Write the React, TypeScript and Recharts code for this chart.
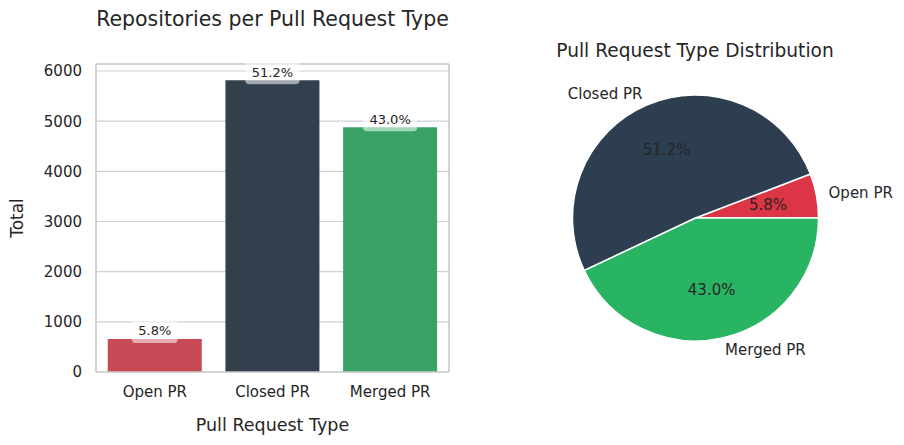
import React from 'react';
import { BarChart, Bar, XAxis, YAxis, CartesianGrid, LabelList, PieChart, Pie, Cell } from 'recharts';

const categories = ['Open PR', 'Closed PR', 'Merged PR'];
const totals = [660, 5815, 4880];
const barColors = ['#c74a56', '#323f4d', '#39a266'];
const pieColors = ['#dc3545', '#2c3e50', '#28b463'];
const yTicks = [0, 1000, 2000, 3000, 4000, 5000, 6000];

const grandTotal = totals.reduce((a, b) => a + b, 0);
const data = categories.map((name, i) => ({
  name,
  total: totals[i],
  pct: ((totals[i] / grandTotal) * 100).toFixed(1) + '%',
}));

const FONT = 'DejaVu Sans, sans-serif';
const TEXT = '#262626';
const RAD = Math.PI / 180;

const charW: Record<string, number> = { '.': 0.318, '%': 0.95 };
const textWidth = (s: string, size: number) =>
  s.split('').reduce((acc, c) => acc + (charW[c] ?? 0.636), 0) * size;

const BarPctLabel = (props: any) => {
  const x = Number(props.x);
  const y = Number(props.y);
  const width = Number(props.width);
  const value = String(props.value);
  const cx = x + width / 2;
  const fs = 13;
  const bw = textWidth(value, fs) + 13;
  return (
    <g>
      <rect x={cx - bw / 2} y={y - 19} width={bw} height={23} rx={4} ry={4} fill="#ffffff" fillOpacity={0.55} />
      <text x={cx} y={y - 3.6} textAnchor="middle" fontSize={fs} fontFamily={FONT} fill={TEXT}>
        {value}
      </text>
    </g>
  );
};

const PieLabel = (props: any) => {
  const { cx, cy, midAngle, outerRadius, index } = props;
  const r1 = outerRadius * 1.1;
  const r2 = outerRadius * 0.6;
  const cos = Math.cos(-midAngle * RAD);
  const sin = Math.sin(-midAngle * RAD);
  const nx = cx + r1 * cos;
  const ny = cy + r1 * sin;
  const px = cx + r2 * cos;
  const py = cy + r2 * sin;
  return (
    <g>
      <text x={nx} y={ny} textAnchor={nx > cx ? 'start' : 'end'} dominantBaseline="central" fontSize={15} fontFamily={FONT} fill={TEXT}>
        {data[index].name}
      </text>
      <text x={px} y={py} textAnchor="middle" dominantBaseline="central" fontSize={15} fontFamily={FONT} fill={TEXT}>
        {data[index].pct}
      </text>
    </g>
  );
};

const SPINE = '#cccccc';
const spine = { stroke: SPINE, strokeWidth: 1.7 };

export default function App() {
  return (
    <div style={{ position: 'absolute', left: 0, top: 0, width: 904, height: 445, background: '#fff', fontFamily: FONT }}>
      <div style={{ position: 'absolute', left: 0, top: 0 }}>
        <BarChart width={460} height={445} data={data} margin={{ top: 64, right: 11, bottom: 43, left: 36 }} barCategoryGap="10%">
          <CartesianGrid horizontal vertical={false} stroke="#d0d0d0" strokeWidth={1.2} />
          <CartesianGrid
            horizontal
            vertical
            stroke={SPINE}
            strokeWidth={1.7}
            horizontalCoordinatesGenerator={({ offset }: any) => [offset.top]}
            verticalCoordinatesGenerator={({ offset }: any) => [offset.left + offset.width]}
          />
          <XAxis
            dataKey="name"
            height={30}
            tickLine={false}
            tickSize={0}
            tickMargin={14}
            axisLine={spine}
            tick={{ fontSize: 15, fill: TEXT, fontFamily: FONT }}
          />
          <YAxis
            width={60}
            domain={[0, 6140]}
            ticks={yTicks}
            tickLine={false}
            tickSize={0}
            tickMargin={14}
            axisLine={spine}
            tick={{ fontSize: 15, fill: TEXT, fontFamily: FONT }}
            allowDataOverflow
          />
          <Bar dataKey="total" isAnimationActive={false}>
            {data.map((d, i) => (
              <Cell key={d.name} fill={barColors[i]} />
            ))}
            <LabelList dataKey="pct" content={BarPctLabel} />
          </Bar>
        </BarChart>
      </div>
      <div style={{ position: 'absolute', left: 460, top: 0 }}>
        <PieChart width={444} height={445} margin={{ top: 0, right: 0, bottom: 0, left: 0 }}>
          <Pie
            data={data}
            dataKey="total"
            nameKey="name"
            cx={235.5}
            cy={218}
            outerRadius={123}
            startAngle={0}
            endAngle={360}
            stroke="#ffffff"
            strokeWidth={1.5}
            label={PieLabel}
            labelLine={false}
            isAnimationActive={false}
          >
            {data.map((d, i) => (
              <Cell key={d.name} fill={pieColors[i]} />
            ))}
          </Pie>
        </PieChart>
      </div>
      <svg width={904} height={445} style={{ position: 'absolute', left: 0, top: 0, pointerEvents: 'none' }}>
        <text x={272.5} y={26} textAnchor="middle" fontSize={20.5} fontFamily={FONT} fill={TEXT}>
          Repositories per Pull Request Type
        </text>
        <text x={272.5} y={431} textAnchor="middle" fontSize={17.5} fontFamily={FONT} fill={TEXT}>
          Pull Request Type
        </text>
        <text x={23} y={218} textAnchor="middle" fontSize={17} fontFamily={FONT} fill={TEXT} transform="rotate(-90 23 218)">
          Total
        </text>
        <text x={695} y={57} textAnchor="middle" fontSize={18.6} fontFamily={FONT} fill={TEXT}>
          Pull Request Type Distribution
        </text>
      </svg>
    </div>
  );
}
